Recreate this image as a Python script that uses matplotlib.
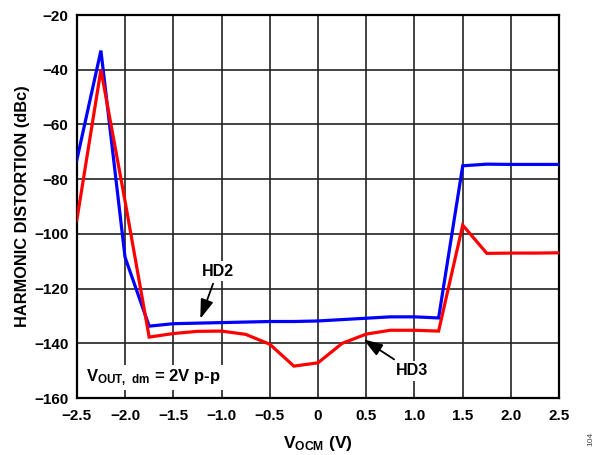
import matplotlib
matplotlib.use("Agg")
import matplotlib.pyplot as plt

plt.rcParams["font.family"] = ["Liberation Sans", "DejaVu Sans"]
plt.rcParams["font.weight"] = "bold"
plt.rcParams["mathtext.fontset"] = "custom"
plt.rcParams["mathtext.rm"] = "Liberation Sans:bold"
plt.rcParams["mathtext.bf"] = "Liberation Sans:bold"

# data
vocm = [-2.5, -2.25, -2.0, -1.75, -1.5, -1.25, -1.0, -0.75, -0.5, -0.25,
        0.0, 0.25, 0.5, 0.75, 1.0, 1.25, 1.5, 1.75, 2.0, 2.25, 2.5]
hd2 = [-73, -33, -108.5, -133.7, -132.8, -132.6, -132.4, -132.2, -132.0, -132.0,
       -131.8, -131.3, -130.8, -130.3, -130.3, -130.7, -75.1, -74.5, -74.6, -74.6, -74.6]
hd3 = [-95, -40, -88, -137.7, -136.4, -135.6, -135.5, -136.7, -140.3, -148.3,
       -147.1, -140.0, -136.6, -135.2, -135.2, -135.5, -96.8, -107.1, -107.0, -107.0, -106.9]

xticks = [-2.5, -2.0, -1.5, -1.0, -0.5, 0, 0.5, 1.0, 1.5, 2.0, 2.5]
xticklabels = ["\u22122.5", "\u22122.0", "\u22121.5", "\u22121.0", "\u22120.5", "0",
               "0.5", "1.0", "1.5", "2.0", "2.5"]
yticks = [-20, -40, -60, -80, -100, -120, -140, -160]
yticklabels = ["\u221220", "\u221240", "\u221260", "\u221280", "\u2212100",
               "\u2212120", "\u2212140", "\u2212160"]

fig = plt.figure(figsize=(6.0, 4.55), dpi=100)
ax = fig.add_axes([0.128, 0.125, 0.804, 0.842])

ax.plot(vocm, hd2, color="#0000ff", lw=2.3, solid_joinstyle="miter", zorder=3)
ax.plot(vocm, hd3, color="#ff0000", lw=2.3, solid_joinstyle="miter", zorder=3)

ax.set_xlim(-2.5, 2.5)
ax.set_ylim(-160, -20)
ax.set_xticks(xticks)
ax.set_xticklabels(xticklabels)
ax.set_yticks(yticks)
ax.set_yticklabels(yticklabels)
ax.tick_params(labelsize=11, length=0)
ax.tick_params(axis="x", pad=8)
ax.tick_params(axis="y", pad=6)
for lab in ax.get_xticklabels() + ax.get_yticklabels():
    lab.set_fontweight("bold")
ax.grid(True, color="#222222", lw=1.2)
for s in ax.spines.values():
    s.set_linewidth(1.6)
    s.set_color("black")

ax.set_xlabel(r"$\mathbf{V_{OCM}}$ (V)", fontsize=12.5, fontweight="bold", labelpad=8)
ax.set_ylabel("HARMONIC DISTORTION (dBc)", fontsize=11.8, fontweight="bold", labelpad=3)

arrow = dict(arrowstyle="-|>,head_length=0.9,head_width=0.3", color="black", lw=1.3,
             shrinkA=2, shrinkB=0, mutation_scale=13)
box = dict(boxstyle="square,pad=0.15", fc="white", ec="none")
ax.annotate("HD2", xy=(-1.22, -131.0), xytext=(-1.04, -113.6),
            ha="center", va="center", fontsize=11.5, fontweight="bold",
            arrowprops=arrow, bbox=box, zorder=5)
ax.annotate("HD3", xy=(0.47, -138.5), xytext=(0.97, -150.0),
            ha="center", va="center", fontsize=11.5, fontweight="bold",
            arrowprops=arrow, bbox=box, zorder=5)

ax.text(-2.4, -152.5, r"$\mathbf{V_{OUT,\ dm}}$ = 2V p-p", fontsize=12,
        fontweight="bold", ha="left", va="center", bbox=box, zorder=5)

fig.text(0.985, 0.035, "104", rotation=90, fontsize=6, color="#444444",
         fontweight="normal", ha="center", va="center")

fig.savefig("out.png", dpi=100)
